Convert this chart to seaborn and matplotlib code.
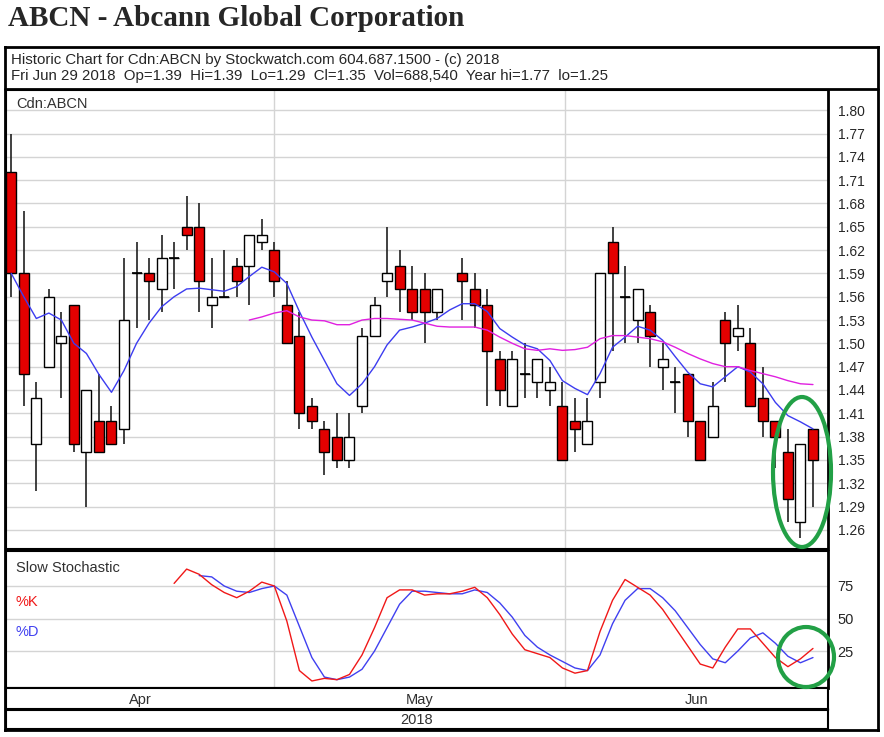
import numpy as np
import pandas as pd
import matplotlib
matplotlib.use("Agg")
import matplotlib.pyplot as plt
import seaborn as sns
from matplotlib.patches import Ellipse

sns.set_theme(style="white")
plt.rcParams['font.family'] = ['Liberation Sans', 'DejaVu Sans']

# daily candles (slot 35 = Victoria Day, no trading)
opens = [1.72, 1.59, 1.37, 1.47, 1.50, 1.55, 1.36, 1.40, 1.40, 1.39, 1.59, 1.59, 1.57, 1.61, 1.65, 1.65,
         1.55, 1.56, 1.60, 1.60, 1.63, 1.62, 1.55, 1.51, 1.42, 1.39, 1.38, 1.35, 1.42, 1.51, 1.58, 1.60,
         1.57, 1.57, 1.54, np.nan, 1.59, 1.57, 1.55, 1.48, 1.42, 1.46, 1.45, 1.44, 1.42, 1.40, 1.37, 1.45,
         1.63, 1.56, 1.53, 1.54, 1.47, 1.45, 1.46, 1.40, 1.38, 1.53, 1.51, 1.50, 1.43, 1.40, 1.36, 1.27, 1.39]
highs = [1.77, 1.67, 1.45, 1.57, 1.54, 1.55, 1.44, 1.46, 1.42, 1.61, 1.63, 1.61, 1.64, 1.63, 1.69, 1.68,
         1.61, 1.62, 1.61, 1.64, 1.66, 1.63, 1.58, 1.54, 1.43, 1.40, 1.41, 1.41, 1.52, 1.56, 1.65, 1.62,
         1.60, 1.59, 1.57, np.nan, 1.61, 1.59, 1.57, 1.49, 1.49, 1.50, 1.48, 1.47, 1.45, 1.43, 1.43, 1.59,
         1.65, 1.60, 1.57, 1.55, 1.50, 1.47, 1.46, 1.40, 1.45, 1.54, 1.55, 1.52, 1.47, 1.40, 1.39, 1.37, 1.39]
lows = [1.56, 1.42, 1.31, 1.47, 1.43, 1.36, 1.29, 1.36, 1.37, 1.37, 1.52, 1.53, 1.54, 1.57, 1.62, 1.54,
        1.52, 1.56, 1.56, 1.55, 1.62, 1.56, 1.50, 1.39, 1.39, 1.33, 1.34, 1.34, 1.41, 1.51, 1.56, 1.54,
        1.53, 1.50, 1.53, np.nan, 1.53, 1.52, 1.42, 1.42, 1.42, 1.43, 1.43, 1.42, 1.35, 1.36, 1.37, 1.43,
        1.49, 1.50, 1.50, 1.47, 1.44, 1.41, 1.38, 1.35, 1.38, 1.45, 1.49, 1.42, 1.38, 1.34, 1.27, 1.25, 1.29]
closes = [1.59, 1.46, 1.43, 1.56, 1.51, 1.37, 1.44, 1.36, 1.37, 1.53, 1.59, 1.58, 1.61, 1.61, 1.64, 1.58,
          1.56, 1.56, 1.58, 1.64, 1.64, 1.58, 1.50, 1.41, 1.40, 1.36, 1.35, 1.38, 1.51, 1.55, 1.59, 1.57,
          1.54, 1.54, 1.57, np.nan, 1.58, 1.55, 1.49, 1.44, 1.48, 1.46, 1.48, 1.45, 1.35, 1.39, 1.40, 1.59,
          1.59, 1.56, 1.57, 1.51, 1.48, 1.45, 1.40, 1.35, 1.42, 1.50, 1.52, 1.42, 1.40, 1.38, 1.30, 1.37, 1.35]

ma_short = [1.590, 1.560, 1.532, 1.539, 1.530, 1.500, 1.487, 1.460, 1.437, 1.465, 1.500, 1.526, 1.547,
            1.560, 1.570, 1.571, 1.569, 1.567, 1.573, 1.586, 1.598, 1.592, 1.577, 1.541, 1.508, 1.478,
            1.448, 1.433, 1.448, 1.470, 1.498, 1.517, 1.521, 1.526, 1.532, 1.543, 1.551, 1.551, 1.541,
            1.519, 1.508, 1.498, 1.493, 1.478, 1.452, 1.442, 1.434, 1.461, 1.495, 1.508, 1.522, 1.517,
            1.504, 1.483, 1.463, 1.448, 1.444, 1.457, 1.470, 1.463, 1.448, 1.424, 1.407, 1.399, 1.390]
ma_long = [np.nan] * 19 + [1.530, 1.534, 1.539, 1.542, 1.534, 1.530, 1.529, 1.524, 1.524, 1.530, 1.532,
           1.532, 1.531, 1.530, 1.526, 1.522, 1.521, 1.521, 1.521, 1.517, 1.508, 1.500, 1.493, 1.491,
           1.493, 1.491, 1.492, 1.495, 1.506, 1.510, 1.510, 1.508, 1.506, 1.502, 1.495, 1.487, 1.480,
           1.474, 1.470, 1.470, 1.465, 1.461, 1.457, 1.452, 1.448, 1.447]

stoch_k = [np.nan] * 13 + [77, 88, 84, 76, 70, 66, 71, 78, 75, 48, 10, 2, 4, 3, 7, 22, 43, 66, 72, 72,
           68, 69, 69, 71, 74, 66, 53, 38, 26, 23, 20, 12, 8, 10, 40, 64, 80, 74, 68, 57, 43, 29, 15,
           12, 28, 42, 42, 31, 20, 13, 19, 27]
stoch_d = [np.nan] * 15 + [83, 82, 75, 71, 70, 73, 75, 68, 44, 20, 5, 3, 5, 11, 25, 43, 61, 71, 71,
           70, 69, 69, 72, 70, 62, 51, 37, 28, 22, 17, 12, 10, 22, 46, 64, 73, 73, 66, 56, 43, 30, 19,
           16, 25, 35, 39, 31, 21, 16, 20]

price_ticks = [1.80, 1.77, 1.74, 1.71, 1.68, 1.65, 1.62, 1.59, 1.56, 1.53, 1.50, 1.47, 1.44, 1.41,
               1.38, 1.35, 1.32, 1.29, 1.26]
stoch_ticks = [25, 50, 75]
months = ["Apr", "May", "Jun"]
month_breaks = [20.95, 44.2]

df = pd.DataFrame({"open": opens, "high": highs, "low": lows, "close": closes,
                   "ma_s": ma_short, "ma_l": ma_long, "k": stoch_k, "d": stoch_d})
df["slot"] = np.arange(len(df))

W, H = 884, 737
fig = plt.figure(figsize=(W / 100, H / 100), dpi=100)


def rect(x0, y0, x1, y1):
    return [x0 / W, 1 - y1 / H, (x1 - x0) / W, (y1 - y0) / H]


xlim = (-0.42, 65.2)

# outer frame
frame = fig.add_axes(rect(5, 47, 878, 730))
frame.set_xticks([]); frame.set_yticks([])
for s in frame.spines.values():
    s.set_color("black"); s.set_linewidth(2)

fig.text(8 / W, 1 - 18 / H, "ABCN - Abcann Global Corporation", family="Liberation Serif",
         weight="bold", fontsize=21, va="center", ha="left")
fig.text(11 / W, 1 - 60 / H, "Historic Chart for Cdn:ABCN by Stockwatch.com 604.687.1500 - (c) 2018",
         fontsize=10.8, va="center")
fig.text(11 / W, 1 - 76 / H,
         "Fri Jun 29 2018  Op=1.39  Hi=1.39  Lo=1.29  Cl=1.35  Vol=688,540  Year hi=1.77  lo=1.25",
         fontsize=10.8, va="center")
fig.add_artist(plt.Line2D([5 / W, 878 / W], [1 - 88.5 / H] * 2, color="black", lw=2))

# price panel
ax = fig.add_axes(rect(6, 90, 828, 549))
ax.set_xlim(*xlim)
ax.set_ylim(1.2354, 1.826)
for y in price_ticks:
    ax.axhline(y, color="#d4d4d4", lw=1, zorder=0)
for xb in month_breaks:
    ax.axvline(xb, color="#d4d4d4", lw=1, zorder=0)

up = df["close"] >= df["open"]
ax.vlines(df["slot"], df["low"], df["high"], color="#202020", lw=1.2, zorder=2)
body_lo = df[["open", "close"]].min(axis=1)
body_h = (df["close"] - df["open"]).abs()
ax.bar(df["slot"][up], body_h[up], bottom=body_lo[up], width=0.8, color="white",
       edgecolor="black", lw=1, zorder=3)
ax.bar(df["slot"][~up], body_h[~up], bottom=body_lo[~up], width=0.8, color="#e30000",
       edgecolor="black", lw=1, zorder=3)
doji = body_h < 0.004
ax.hlines(df["open"][doji], df["slot"][doji] - 0.4, df["slot"][doji] + 0.4, color="black", lw=1.2, zorder=3)

sns.lineplot(data=df, x="slot", y="ma_s", ax=ax, color="#3c3cf0", lw=1, zorder=4)
sns.lineplot(data=df, x="slot", y="ma_l", ax=ax, color="#e020e0", lw=1, zorder=4)

ax.yaxis.tick_right()
ax.set_yticks(price_ticks)
ax.set_yticklabels([f"{t:.2f}" for t in price_ticks], fontsize=10)
ax.tick_params(axis="y", length=0, pad=7)
ax.set_xticks([])
ax.set_xlabel(""); ax.set_ylabel("")
ax.text(0.012, 0.985, "Cdn:ABCN", transform=ax.transAxes, fontsize=10.5, va="top", color="#303030")
for s in ax.spines.values():
    s.set_color("black"); s.set_linewidth(1.5)
ax.spines["right"].set_linewidth(2)

# stochastic panel
ax2 = fig.add_axes(rect(6, 551, 828, 688))
ax2.set_xlim(*xlim)
ax2.set_ylim(-3.4, 101.9)
for y in stoch_ticks:
    ax2.axhline(y, color="#d4d4d4", lw=1, zorder=0)
for xb in month_breaks:
    ax2.axvline(xb, color="#d4d4d4", lw=1, zorder=0)
sns.lineplot(data=df, x="slot", y="d", ax=ax2, color="#4040f0", lw=1)
sns.lineplot(data=df, x="slot", y="k", ax=ax2, color="#f01818", lw=1)
ax2.yaxis.tick_right()
ax2.set_yticks(stoch_ticks)
ax2.set_yticklabels([str(t) for t in stoch_ticks], fontsize=10.5)
ax2.tick_params(axis="y", length=0, pad=7)
ax2.set_xticks([])
ax2.set_xlabel(""); ax2.set_ylabel("")
ax2.text(0.012, 0.93, "Slow Stochastic", transform=ax2.transAxes, fontsize=10.5, va="top", color="#303030")
ax2.text(0.012, 0.68, "%K", transform=ax2.transAxes, fontsize=10.5, va="top", color="#f01818")
ax2.text(0.012, 0.46, "%D", transform=ax2.transAxes, fontsize=10.5, va="top", color="#4040f0")
for s in ax2.spines.values():
    s.set_color("black"); s.set_linewidth(1.5)
ax2.spines["right"].set_linewidth(2)

# month row and year row
ax3 = fig.add_axes(rect(6, 688, 828, 709))
ax3.set_xlim(*xlim); ax3.set_ylim(0, 1)
ax3.set_xticks([]); ax3.set_yticks([])
bounds = [xlim[0]] + month_breaks + [xlim[1]]
for i, m in enumerate(months):
    ax3.text((bounds[i] + bounds[i + 1]) / 2, 0.45, m, ha="center", va="center", fontsize=10.5, color="#303030")
ax4 = fig.add_axes(rect(6, 710, 828, 729))
ax4.set_xticks([]); ax4.set_yticks([])
ax4.text(0.5, 0.45, "2018", transform=ax4.transAxes, ha="center", va="center", fontsize=10.5, color="#303030")
for a in (ax3, ax4):
    for s in a.spines.values():
        s.set_color("black"); s.set_linewidth(1.5)

# green highlight ellipses
green = "#22a046"
fig.add_artist(Ellipse((802 / W, 1 - 472 / H), 58 / W, 150 / H, fill=False, ec=green, lw=3,
                       transform=fig.transFigure))
fig.add_artist(Ellipse((806 / W, 1 - 657 / H), 56 / W, 60 / H, fill=False, ec=green, lw=3,
                       transform=fig.transFigure))

fig.savefig("out.png", dpi=100)
